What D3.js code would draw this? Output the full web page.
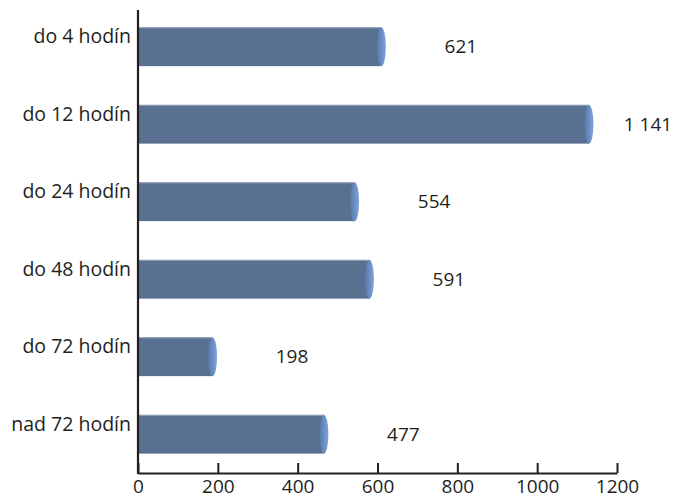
<!DOCTYPE html>
<html><head><meta charset="utf-8">
<script src="https://cdn.jsdelivr.net/npm/d3@7"></script>
<style>body{margin:0;background:#fff}text{font-family:"Open Sans","Noto Sans",sans-serif;fill:#231f20}</style>
</head><body><svg id="c" width="674" height="501"></svg>
<script>
const categories = ["do 4 hodín","do 12 hodín","do 24 hodín","do 48 hodín","do 72 hodín","nad 72 hodín"];
const values = [621,1141,554,591,198,477];
const ticks = [0,200,400,600,800,1000,1200];

const svg = d3.select("#c");
const x = d3.scaleLinear().domain([0,1200]).range([138,617]);
const y = d3.scaleBand().domain(categories).range([8,473]).paddingInner(0.5).paddingOuter(0.25);
const loc = d3.formatLocale({decimal:",",thousands:"\u00a0",grouping:[3],currency:["","€"]});
const fmt = loc.format(",d");

const defs = svg.append("defs");
const g1 = defs.append("linearGradient").attr("id","cap").attr("x1",0).attr("x2",1).attr("y1",0).attr("y2",0);
g1.append("stop").attr("offset","0%").attr("stop-color","#5877a8");
g1.append("stop").attr("offset","100%").attr("stop-color","#7ea4dc");

const rx = 4.5;
const bh = y.bandwidth();
const bars = svg.append("g").selectAll("g").data(categories).join("g");
bars.append("rect").attr("x",x(0)).attr("y",d=>y(d)).attr("width",(d,i)=>x(values[i])-rx-x(0)).attr("height",bh).attr("fill","#5a7090");
bars.append("line").attr("x1",x(0)).attr("x2",(d,i)=>x(values[i])-rx).attr("y1",d=>y(d)+0.5).attr("y2",d=>y(d)+0.5).attr("stroke","#8fa2bd").attr("stroke-width",1);
bars.append("ellipse").attr("cx",(d,i)=>x(values[i])-rx).attr("cy",d=>y(d)+bh/2).attr("rx",rx).attr("ry",bh/2).attr("fill","url(#cap)");

// value labels
svg.append("g").selectAll("text").data(categories).join("text")
  .attr("x",(d,i)=>Math.min(x(values[i])+75,648))
  .attr("y",d=>y(d)+bh/2+6.5)
  .attr("text-anchor","middle").attr("font-size",19)
  .text((d,i)=>fmt(values[i]));

// category labels
svg.append("g").selectAll("text").data(categories).join("text")
  .attr("x",131).attr("y",d=>y(d)+bh/2-3.5)
  .attr("text-anchor","end").attr("font-size",19.5)
  .text(d=>d);

// axes
const ax = svg.append("g").attr("transform","translate(0,473)")
  .call(d3.axisBottom(x).tickValues(ticks).tickSize(-10).tickSizeOuter(0).tickPadding(7).tickFormat(d3.format("d")));
ax.select(".domain").attr("stroke","#231f20").attr("stroke-width",2.2);
ax.selectAll(".tick line").attr("stroke","#231f20").attr("stroke-width",2);
ax.selectAll(".tick text").attr("font-size",19).attr("font-family","'Open Sans','Noto Sans',sans-serif").attr("fill","#231f20");
svg.append("line").attr("x1",x(0)).attr("x2",x(0)).attr("y1",10).attr("y2",474).attr("stroke","#231f20").attr("stroke-width",2.2);
</script></body></html>
